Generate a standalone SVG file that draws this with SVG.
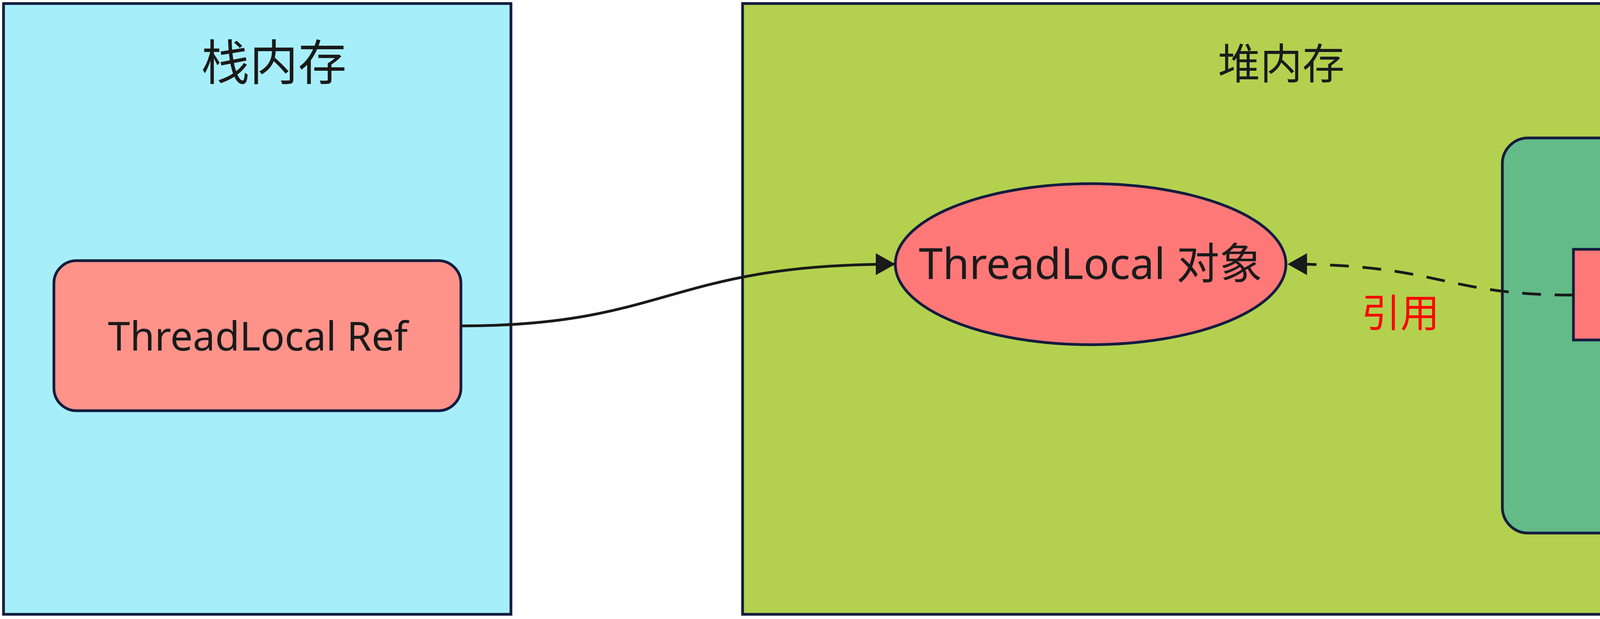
<svg xmlns="http://www.w3.org/2000/svg" width="5276" height="1584" viewBox="0 0 5276 1584">
<style>
.panel{stroke:#141c3f;stroke-width:7}
.node{stroke:#141c3f;stroke-width:7}
.t{font-family:"Noto Sans","Noto Sans CJK SC",sans-serif;fill:#1a1a1a;text-anchor:middle}
.edge{fill:none;stroke:#1a1a1a;stroke-width:7}
.dash{stroke-dasharray:48 35}
</style>
<defs>
<marker id="arr" viewBox="0 0 50 56" refX="50" refY="28" markerWidth="50" markerHeight="56" markerUnits="userSpaceOnUse" orient="auto">
<path d="M0,0 L50,28 L0,56 Z" fill="#1a1a1a"/>
</marker>
<filter id="sh" x="-10%" y="-50%" width="120%" height="200%">
<feDropShadow dx="2" dy="2" stdDeviation="1" flood-color="#555" flood-opacity="0.8"/>
</filter>
</defs>
<rect width="5276" height="1584" fill="#ffffff"/>
<g id="stack">
<rect class="panel" x="9" y="9" width="1299" height="1563" fill="#a6effa"/>
<text class="t" x="701" y="156" font-size="124" dominant-baseline="central">栈内存</text>
</g>
<g id="heap">
<rect class="panel" x="1901" y="9" width="3364" height="1563" fill="#b3d14f"/>
<text class="t" x="3280" y="160" font-size="108" dominant-baseline="central">堆内存</text>
</g>
<g id="threadlocal-ref">
<rect class="node" x="138" y="667" width="1042" height="384" rx="58" ry="58" fill="#ff938a"/>
<text class="t" x="660" y="897" font-size="102">ThreadLocal Ref</text>
</g>
<g id="threadlocal-obj">
<ellipse class="node" cx="2792" cy="676" rx="500" ry="206" fill="#ff7878"/>
<text class="t" x="2792" y="714" font-size="110">ThreadLocal 对象</text>
</g>
<g id="entry">
<rect class="node" x="3846" y="353" width="943" height="1011" rx="66" ry="66" fill="#63bb88"/>
<text class="t" x="4320" y="537" font-size="108">Entry</text>
</g>
<g id="key-ref">
<rect class="node" x="4028" y="638" width="581" height="232" fill="#ff7878"/>
<text class="t" x="4320" y="789" font-size="100">key Ref</text>
</g>
<g id="connectors">
<path class="edge" d="M1180,834 C1711,834 1711,676 2292,676" marker-end="url(#arr)"/>
<path class="edge dash" d="M4028,755 C3690,755 3690,676 3296,676" marker-end="url(#arr)"/>
<text x="3585" y="793" font-size="100" fill="#ff0000" text-anchor="middle" dominant-baseline="central" font-family="Noto Sans CJK SC, sans-serif">引用</text>
</g>
<text x="5241" y="1540" font-size="25" fill="#e6e6e6" text-anchor="end" filter="url(#sh)" font-family="Noto Sans CJK SC, sans-serif">掘金技术社区 @ 大明哥09</text>
</svg>
